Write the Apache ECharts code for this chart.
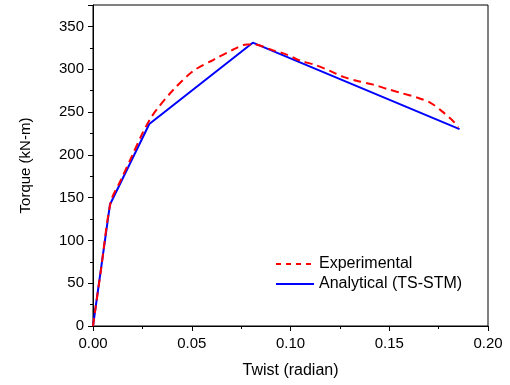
<!DOCTYPE html>
<html>
<head>
<meta charset="utf-8">
<script src="https://cdn.jsdelivr.net/npm/echarts@6/dist/echarts.min.js"></script>
<style>
  html, body { margin: 0; padding: 0; background: #fff; }
  #chart { width: 510px; height: 385px; }
</style>
</head>
<body>
<div id="chart"></div>
<script>
// experimental curve (twist, torque)
var expTwist = [0, 0.004, 0.009, 0.014, 0.020, 0.025, 0.029, 0.0323, 0.0407, 0.0508, 0.061, 0.0711, 0.0779, 0.0812,
    0.0913, 0.0981, 0.1049, 0.1125, 0.120, 0.1268, 0.1344, 0.142, 0.1488, 0.1563, 0.164, 0.1707, 0.1766, 0.1825, 0.1850];
var expTorque = [0, 65, 145, 170, 200, 225, 242, 253, 276, 298, 311, 323, 329, 329,
    322, 317, 310, 305, 298, 291, 286, 282, 277, 272, 267, 261, 251, 239, 232];

// analytical TS-STM
var anaTwist = [0, 0.0086, 0.0285, 0.0809, 0.1856];
var anaTorque = [0, 142, 236, 331, 230];

function pairs(xs, ys) {
    var out = [];
    for (var i = 0; i < xs.length; i++) out.push([xs[i], ys[i]]);
    return out;
}

var font = 'Liberation Sans, Arial, sans-serif';
var axisCommon = {
    axisLine: { show: true, onZero: false, lineStyle: { color: '#000', width: 1 } },
    axisTick: { show: true, inside: false, length: 5, lineStyle: { color: '#000' } },
    minorTick: { show: true, splitNumber: 2, length: 3, lineStyle: { color: '#000' } },
    splitLine: { show: false }
};

var myChart = echarts.init(document.getElementById('chart'));
myChart.setOption({
    animation: false,
    backgroundColor: '#fff',
    grid: { left: 93, top: 5, right: 22, bottom: 59, show: true, borderColor: '#000', borderWidth: 1 },
    legend: {
        orient: 'vertical',
        left: 270,
        top: 251,
        itemWidth: 38,
        itemHeight: 14,
        itemGap: 4,
        padding: 5,
        itemStyle: { opacity: 0 },
        textStyle: { color: '#000', fontSize: 16, fontFamily: font, lineHeight: 14 },
        data: [
            { name: 'Experimental', lineStyle: { type: [5, 5], width: 2 } },
            { name: 'Analytical (TS-STM)' }
        ]
    },
    xAxis: Object.assign({}, axisCommon, {
        type: 'value',
        min: 0,
        max: 0.2,
        interval: 0.05,
        name: 'Twist (radian)',
        nameLocation: 'middle',
        nameGap: 37,
        nameTextStyle: { color: '#000', fontSize: 16, fontFamily: font },
        axisLabel: {
            color: '#000', fontSize: 15, fontFamily: font, margin: 10,
            formatter: function (v) { return v.toFixed(2); }
        }
    }),
    yAxis: Object.assign({}, axisCommon, {
        type: 'value',
        min: 0,
        max: 375,
        interval: 50,
        name: 'Torque (kN-m)',
        nameLocation: 'middle',
        nameGap: 60,
        nameTextStyle: { color: '#000', fontSize: 15, fontFamily: font },
        axisLabel: {
            color: '#000', fontSize: 15, fontFamily: font, margin: 9,
            formatter: function (v) { return v > 350 ? '' : v; }
        }
    }),
    series: [{
        name: 'Experimental',
        type: 'line',
        smooth: 0.3,
        symbol: 'none',
        data: pairs(expTwist, expTorque),
        lineStyle: { color: '#ff0000', width: 2, type: [8, 5] },
        itemStyle: { color: '#ff0000' },
        z: 3
    }, {
        name: 'Analytical (TS-STM)',
        type: 'line',
        symbol: 'none',
        data: pairs(anaTwist, anaTorque),
        lineStyle: { color: '#0000ff', width: 2 },
        itemStyle: { color: '#0000ff' },
        z: 2
    }]
});
</script>
</body>
</html>
